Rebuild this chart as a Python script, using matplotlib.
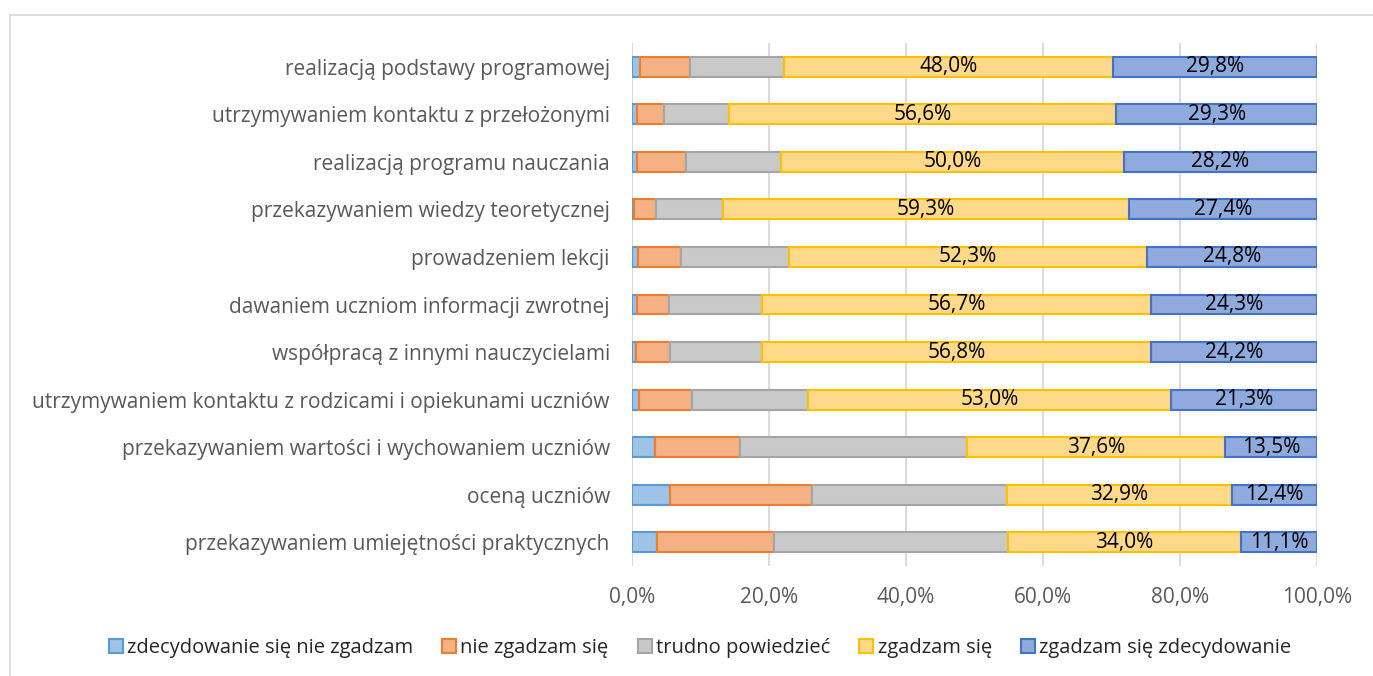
import numpy as np
import matplotlib.pyplot as plt
from matplotlib.lines import Line2D

plt.rcParams['font.family'] = ['Open Sans', 'DejaVu Sans']

kategorie = [
    "realizacją podstawy programowej",
    "utrzymywaniem kontaktu z przełożonymi",
    "realizacją programu nauczania",
    "przekazywaniem wiedzy teoretycznej",
    "prowadzeniem lekcji",
    "dawaniem uczniom informacji zwrotnej",
    "współpracą z innymi nauczycielami",
    "utrzymywaniem kontaktu z rodzicami i opiekunami uczniów",
    "przekazywaniem wartości i wychowaniem uczniów",
    "oceną uczniów",
    "przekazywaniem umiejętności praktycznych",
]

serie = ["zdecydowanie się nie zgadzam", "nie zgadzam się", "trudno powiedzieć",
         "zgadzam się", "zgadzam się zdecydowanie"]

zdecydowanie_nie = [1.1, 0.7, 0.8, 0.3, 0.9, 0.7, 0.6, 1.0, 3.4, 5.6, 3.6]
nie_zgadzam = [7.4, 3.9, 7.1, 3.2, 6.2, 4.7, 5.0, 7.7, 12.4, 20.7, 17.1]
trudno = [13.7, 9.5, 13.9, 9.8, 15.8, 13.6, 13.4, 17.0, 33.1, 28.4, 34.2]
zgadzam = [48.0, 56.6, 50.0, 59.3, 52.3, 56.7, 56.8, 53.0, 37.6, 32.9, 34.0]
zdecydowanie_tak = [29.8, 29.3, 28.2, 27.4, 24.8, 24.3, 24.2, 21.3, 13.5, 12.4, 11.1]

dane = [zdecydowanie_nie, nie_zgadzam, trudno, zgadzam, zdecydowanie_tak]
wypelnienie = ["#9DC3E6", "#F4B183", "#C9C9C9", "#FFD98A", "#8FAADC"]
krawedz = ["#5B9BD5", "#ED7D31", "#A5A5A5", "#FFC000", "#4472C4"]
z_etykieta = [False, False, False, True, True]

fig = plt.figure(figsize=(13.73, 6.76), dpi=100)
ax = fig.add_axes([632 / 1373, 1 - 566 / 676, 685 / 1373, 523 / 676])

y = np.arange(len(kategorie))
lewo = np.zeros(len(kategorie))
for wart, fc, ec, lab, nazwa in zip(dane, wypelnienie, krawedz, z_etykieta, serie):
    wart = np.array(wart)
    bars = ax.barh(y, wart, left=lewo, height=0.42, color=fc, edgecolor=ec,
                   linewidth=1.5, label=nazwa, zorder=3)
    if lab:
        for b, v in zip(bars, wart):
            ax.text(b.get_x() + b.get_width() / 2, b.get_y() + b.get_height() / 2,
                    f"{v:.1f}%".replace(".", ","), ha="center", va="center",
                    fontsize=15, color="black", zorder=4)
    lewo += wart

ax.set_xlim(0, 100)
ax.set_ylim(len(kategorie) - 0.5, -0.5)
ax.set_yticks(y)
ax.set_yticklabels(kategorie, fontsize=15, color="#595959")
ax.set_xticks(np.arange(0, 101, 20))
ax.set_xticklabels([f"{t:.1f}%".replace(".", ",") for t in np.arange(0, 101, 20)],
                   fontsize=15, color="#595959")
ax.tick_params(axis="both", length=0)
ax.tick_params(axis="x", pad=15)
ax.tick_params(axis="y", pad=16)
ax.grid(axis="x", color="#D9D9D9", linewidth=1.3, zorder=0)
for s in ax.spines.values():
    s.set_visible(False)
ax.axvline(0, color="#D9D9D9", linewidth=1.5, zorder=1)

leg = fig.legend(loc="center", bbox_to_anchor=(700 / 1373, 1 - 648 / 676), ncol=5,
                 frameon=False, fontsize=14.5, handlelength=0.7, handleheight=0.7,
                 handletextpad=0.2, columnspacing=1.45)
for t in leg.get_texts():
    t.set_color("#262626")

# ramka wykresu (widoczna tylko lewa i gorna krawedz)
x0, y0 = 10 / 1373, 1 - 15 / 676
fig.lines.append(Line2D([x0, 1.0], [y0, y0], transform=fig.transFigure,
                        color="#D9D9D9", linewidth=1.2))
fig.lines.append(Line2D([x0, x0], [0, y0], transform=fig.transFigure,
                        color="#D9D9D9", linewidth=1.2))

plt.savefig("out.png", dpi=100)
